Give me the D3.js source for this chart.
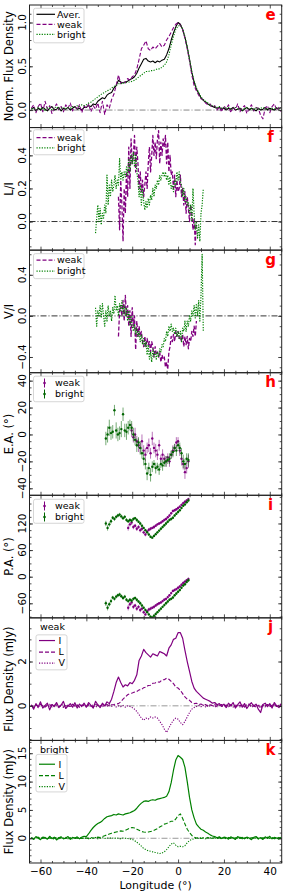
<!DOCTYPE html>
<html>
<head>
<meta charset="utf-8">
<script src="https://cdn.jsdelivr.net/npm/d3@7"></script>
<style>
body { margin: 0; background: #fff; }
text { font-family: "DejaVu Sans", sans-serif; }
</style>
</head>
<body>
<svg id="fig" width="287" height="894"></svg>
<script>
// longitude grid (deg) for the full profiles, 1 deg steps
var lonFull = d3.range(-64, 46, 1);

// panel e: normalised flux density
var normAver = [0.01,0.03,-0.01,0.02,0.00,0.03,0.01,-0.01,0.02,0.04,0.00,0.01,0.03,-0.01,0.02,0.01,0.03,0.00,0.02,0.04,0.01,0.02,0.00,0.03,
  0.03,0.05,0.04,0.07,0.06,0.10,0.12,0.14,0.13,0.17,0.19,
  0.20,0.25,0.28,0.34,0.32,0.31,0.32,0.33,0.35,0.36,
  0.38,0.42,0.48,0.53,0.58,0.59,0.56,0.55,0.56,0.54,
  0.56,0.55,0.57,0.58,0.63,0.70,0.80,0.88,0.95,1.00,
  0.98,0.92,0.83,0.72,0.58,0.43,0.32,0.24,0.19,0.14,
  0.11,0.09,0.07,0.05,0.04,0.03,0.02,0.03,0.01,0.02,
  0.00,0.02,0.01,0.03,0.00,0.01,0.02,-0.01,0.01,0.03,0.00,0.02,0.01,-0.01,0.02,0.00,0.01,0.03,0.00,0.02,0.01,0.00,0.02,0.01,0.03];
var normWeak = [0.02,0.06,-0.03,0.04,0.08,-0.02,0.10,0.01,0.05,-0.04,0.03,0.07,0.00,0.04,-0.02,0.06,0.02,0.08,-0.01,0.04,0.01,0.06,-0.03,0.05,
  0.02,0.07,-0.02,0.05,0.01,0.08,-0.03,0.10,-0.05,0.06,0.02,
  0.12,0.18,0.28,0.40,0.30,0.33,0.31,0.36,0.34,0.38,
  0.40,0.47,0.58,0.70,0.74,0.79,0.70,0.68,0.72,0.70,
  0.73,0.76,0.72,0.74,0.80,0.84,0.89,0.94,0.98,1.00,
  0.97,0.92,0.82,0.70,0.56,0.40,0.28,0.22,0.17,0.13,
  0.12,0.08,0.06,0.07,0.03,0.05,0.00,0.04,-0.02,0.05,
  0.01,0.06,-0.03,0.04,0.00,0.07,-0.02,0.03,0.05,-0.04,0.02,0.06,-0.01,0.03,0.02,-0.06,-0.10,0.02,0.05,-0.03,0.04,0.07,0.00,0.03,-0.02];
var normBright = [0.01,0.02,0.00,0.03,0.01,0.02,-0.01,0.03,0.02,0.00,0.02,0.04,0.01,0.02,0.03,0.01,0.03,0.02,0.04,0.03,0.05,0.04,0.06,0.05,
  0.06,0.08,0.09,0.11,0.13,0.15,0.17,0.19,0.20,0.22,0.23,
  0.25,0.27,0.28,0.30,0.30,0.31,0.31,0.32,0.32,0.33,
  0.34,0.36,0.38,0.40,0.42,0.44,0.44,0.45,0.45,0.46,
  0.47,0.47,0.49,0.51,0.55,0.63,0.74,0.84,0.92,0.96,
  0.97,0.93,0.84,0.72,0.58,0.44,0.33,0.25,0.20,0.15,
  0.12,0.10,0.08,0.06,0.05,0.04,0.03,0.04,0.02,0.03,
  0.02,0.03,0.01,0.02,0.03,0.01,0.02,0.00,0.02,0.03,0.01,0.02,0.00,0.03,0.01,0.02,0.03,0.01,0.02,0.00,0.02,0.01,0.03,0.02,0.01];

// panels f, g: L/I and V/I, 0.5 deg steps
var lonWeakPol = d3.range(-26, 8.25, 0.5);
var lonBrightPol = d3.range(-36, 11.25, 0.5);
var linWeak = [0.15,-0.05,0.25,0.10,-0.12,0.20,0.05,0.30,0.15,0.45,
  0.20,0.50,0.35,0.40,0.52,0.30,0.45,0.35,0.20,0.30,
  0.18,0.25,0.15,0.22,0.30,0.20,0.35,0.45,0.30,0.40,
  0.52,0.40,0.48,0.38,0.50,0.55,0.35,0.48,0.40,0.50,
  0.45,0.52,0.35,0.48,0.30,0.40,0.28,0.30,0.20,0.28,
  0.15,0.25,0.18,0.20,0.28,0.15,0.20,0.10,0.18,0.05,
  0.15,0.08,0.00,0.10,0.05,-0.05,0.02,-0.14,0.00];
var linBright = [-0.07,0.02,0.10,0.00,0.08,-0.02,0.05,0.02,0.10,0.05,
  0.28,0.10,0.22,0.15,0.25,0.18,0.22,0.28,0.20,0.25,
  0.22,0.38,0.25,0.30,0.25,0.30,0.27,0.33,0.28,0.38,
  0.30,0.40,0.35,0.42,0.33,0.40,0.30,0.25,0.15,0.22,
  0.10,0.20,0.12,0.07,0.12,0.08,0.14,0.10,0.16,0.13,
  0.20,0.15,0.22,0.20,0.25,0.22,0.28,0.25,0.28,0.30,
  0.27,0.30,0.25,0.28,0.22,0.27,0.20,0.22,0.18,0.25,
  0.22,0.30,0.25,0.30,0.24,0.22,0.15,0.20,0.12,0.15,
  0.10,0.12,0.05,0.10,0.00,0.20,0.05,-0.05,0.00,-0.10,
  -0.02,-0.12,0.05,0.10,0.20];
var circWeak = [-0.20,0.05,0.10,0.00,0.15,-0.05,0.20,0.00,0.10,-0.10,
  0.05,-0.20,0.08,-0.10,0.00,-0.33,-0.05,-0.20,-0.10,-0.20,
  -0.15,-0.25,-0.30,-0.20,-0.30,-0.22,-0.28,-0.25,-0.35,-0.25,
  -0.30,-0.40,-0.30,-0.38,-0.35,-0.40,-0.35,-0.45,-0.38,-0.42,
  -0.40,-0.50,-0.45,-0.52,-0.35,-0.30,-0.20,-0.25,-0.18,-0.25,
  -0.15,-0.20,-0.15,-0.22,-0.20,-0.25,-0.18,-0.30,-0.20,-0.28,
  -0.20,-0.32,-0.22,-0.25,-0.15,-0.20,-0.10,-0.20,-0.05];
var circBright = [0.08,-0.10,0.05,0.00,0.10,-0.02,0.12,0.00,-0.10,0.05,
  -0.05,0.10,0.00,0.05,-0.05,0.08,0.02,0.20,0.05,0.10,
  0.00,0.12,0.05,0.15,0.02,0.10,0.00,0.08,-0.05,0.05,
  -0.10,0.00,-0.10,-0.15,-0.08,-0.18,-0.12,-0.20,-0.15,-0.25,
  -0.18,-0.28,-0.22,-0.30,-0.25,-0.38,-0.28,-0.42,-0.35,-0.45,
  -0.32,-0.40,-0.35,-0.42,-0.35,-0.40,-0.32,-0.35,-0.28,-0.30,
  -0.22,-0.25,-0.15,-0.20,-0.10,-0.15,-0.08,-0.15,-0.12,-0.18,
  -0.12,-0.20,-0.15,-0.22,-0.15,-0.25,-0.12,-0.15,-0.05,-0.15,
  -0.05,-0.10,0.00,-0.05,0.05,0.00,0.10,-0.02,0.12,0.00,
  0.15,-0.05,0.20,0.60,-0.15];

// panels h, i: E.A. and P.A. (deg), 0.75 deg steps
var lonBrightAng = d3.range(-31.5, 4.6, 0.75);
var lonWeakEA = d3.range(-20.25, 4.6, 0.75);
var lonWeakPA = d3.range(-21.75, 4.6, 0.75);
var eaBright = [-3,0,5,1,2,18,3,0,1,4, 15,3,2,5,7,5,0,-4,-8,-6, -10,-14,-18,-22,-29,-25,-30,-24,-22,-25,
  -24,-26,-22,-23,-21,-20,-19,-18,-15,-13, -10,-12,-8,-10,-14,-20,-22,-18,-19];
var eaErrBright = [5,6,6,5,5,4,6,5,5,6, 5,5,6,5,4,5,5,4,5,4, 5,4,5,4,5,4,5,4,3,4, 3,4,3,4,3,4,3,4,3,4, 3,4,3,4,4,5,4,4,5];
var eaWeak = [3,-2,0,-5,-8,-10,-5,-12,-15,-10, -8,-14,-3,-10,-12,-15,-8,-18,-15,-18,
  -20,-17,-20,-15,-12,-10,-6,-5,-12,-18, -22,-28,-25,-20];
var eaErrWeak = [5,4,5,4,5,4,5,4,5,4, 5,4,5,4,5,4,4,3,4,3, 4,3,4,3,4,3,4,3,4,5, 4,5,4,5];
var paBright = [120,110,118,125,133,130,135,138,140,136, 132,135,128,125,128,126,130,132,128,124,
  120,115,110,105,100,95,90,88,92,96, 100,104,108,112,116,120,124,128,130,133,
  138,142,146,150,155,160,163,168,172];
var paErrBright = [6,6,5,5,4,4,4,4,4,4, 4,4,4,4,4,4,4,3,4,3, 4,3,3,3,3,3,3,3,3,3, 3,3,3,3,3,3,3,3,3,3, 3,3,3,3,3,3,3,3,4];
var paWeak = [110,118,122,112,115,108,112,105,108,100, 95,102,106,108,110,112,115,118,120,122,
  125,128,130,134,138,143,148,150,152,155, 158,162,166,169,172,175];
var paErrWeak = [6,5,5,5,4,5,4,5,4,4, 4,4,4,4,3,4,3,3,3,3, 3,3,3,3,3,3,3,3,3,3, 3,3,3,3,3,3];

// panel j: weak mode (mJy)
var weakI = [0.05,-0.15,0.10,-0.05,0.18,-0.10,0.02,0.12,-0.18,0.06,-0.02,0.15,-0.08,0.04,0.20,-0.12,0.00,0.10,-0.06,0.14,-0.10,0.08,-0.03,0.12,
  -0.05,0.15,0.02,-0.10,0.20,0.05,-0.08,0.12,0.00,0.18,0.10,
  0.30,0.65,1.05,1.30,1.05,0.85,0.95,0.90,1.05,1.00,
  1.15,1.40,2.05,2.25,2.55,2.40,2.30,2.20,2.35,2.30,
  2.25,2.45,2.40,2.35,2.25,2.60,2.75,3.00,3.05,3.30,
  3.30,3.05,2.50,2.00,1.55,1.10,0.80,0.65,0.55,0.45,
  0.35,0.30,0.25,0.20,0.12,0.15,0.05,0.10,-0.02,0.08,
  -0.08,0.12,0.00,0.15,-0.10,0.05,0.18,-0.06,0.10,-0.12,0.04,0.14,-0.02,0.08,-0.15,-0.30,0.06,0.12,-0.04,0.10,-0.10,0.15,0.00,-0.08,0.10];
var weakL = [0.02,-0.08,0.05,-0.03,0.08,0.00,-0.06,0.04,0.07,-0.05,0.02,0.09,-0.04,0.03,-0.07,0.06,0.01,-0.03,0.08,-0.02,0.04,-0.06,0.03,0.05,
  -0.04,0.06,0.00,-0.05,0.07,0.02,-0.03,0.05,0.01,0.06,0.00,
  0.05,0.06,0.08,0.10,0.18,0.30,0.40,0.50,0.55,0.58,
  0.62,0.65,0.72,0.73,0.82,0.84,0.92,0.93,1.02,1.03,
  1.08,1.07,1.17,1.18,1.25,1.20,1.10,1.00,0.85,0.80,
  0.70,0.55,0.40,0.30,0.25,0.15,0.10,0.12,0.05,0.08,
  0.02,0.06,-0.03,0.05,0.00,0.07,-0.04,0.03,0.06,-0.02,
  0.04,-0.05,0.06,0.01,-0.03,0.07,0.00,0.05,-0.06,0.03,0.08,-0.02,0.04,-0.07,0.02,-0.12,0.05,0.00,0.06,-0.04,0.03,0.07,-0.03,0.02,0.05];
var weakV = [0.03,-0.05,0.02,-0.08,0.04,0.00,-0.06,0.05,-0.02,0.06,-0.04,0.01,-0.07,0.03,0.05,-0.03,0.02,-0.05,0.06,-0.01,0.03,-0.06,0.04,0.00,
  -0.05,0.03,-0.02,0.05,-0.06,0.01,0.04,-0.04,0.02,-0.03,0.05,
  -0.02,0.03,-0.05,0.00,-0.04,0.02,-0.06,0.00,-0.03,-0.08,
  -0.15,-0.25,-0.40,-0.55,-0.65,-0.55,-0.60,-0.50,-0.55,-0.50,
  -0.55,-0.70,-0.85,-1.05,-1.20,-1.00,-0.80,-0.65,-0.55,-0.60,
  -0.75,-0.85,-0.70,-0.50,-0.30,-0.15,-0.08,-0.03,0.02,-0.04,
  0.03,-0.05,0.04,-0.02,0.05,-0.06,0.02,0.04,-0.03,0.01,
  0.05,-0.04,0.02,-0.06,0.03,0.00,-0.05,0.04,-0.02,0.06,-0.03,0.01,-0.07,0.03,0.05,-0.04,0.02,-0.05,0.04,0.00,-0.03,0.06,-0.02,0.03,-0.05];

// panel k: bright mode (mJy)
var brightI = [0.15,-0.20,0.30,0.00,-0.25,0.20,0.10,-0.15,0.35,-0.05,0.20,-0.30,0.10,0.25,-0.10,0.05,0.30,-0.20,0.15,0.00,0.25,-0.10,0.20,0.35,
  0.30,0.80,1.40,1.90,2.30,2.60,2.80,3.10,3.50,3.80,3.90,
  4.00,4.20,4.10,4.30,4.20,4.10,4.30,4.40,4.50,4.70,
  4.90,5.30,5.80,6.20,6.50,6.60,6.50,6.70,6.80,6.70,
  6.90,7.00,7.10,7.20,7.40,8.20,9.80,12.00,13.80,14.60,
  14.30,13.90,12.50,10.00,7.20,5.00,3.60,2.50,2.00,1.60,
  1.40,1.10,0.90,0.60,0.40,0.30,0.10,0.25,-0.05,0.20,
  0.10,-0.15,0.25,0.05,-0.20,0.30,0.00,0.15,-0.10,0.20,0.05,-0.25,0.15,0.30,-0.05,0.10,-0.20,0.25,0.00,0.35,-0.10,0.15,0.05,-0.15,0.20];
var brightL = [0.10,-0.15,0.05,0.20,-0.10,0.00,0.15,-0.05,0.10,-0.20,0.05,0.15,-0.10,0.20,0.00,-0.05,0.10,0.05,-0.15,0.10,0.00,0.15,-0.05,0.10,
  0.05,-0.10,0.15,0.00,0.10,0.20,0.15,0.30,0.45,0.60,0.75,
  0.90,1.00,1.10,1.20,1.30,1.25,1.40,1.60,1.80,1.90,
  1.80,1.60,1.40,1.20,1.10,1.05,1.10,1.20,1.30,1.50,
  1.70,2.00,2.20,2.50,2.60,2.80,3.00,3.00,3.40,4.00,
  4.30,3.50,2.50,1.60,1.00,0.50,0.20,0.05,0.10,-0.05,
  0.10,0.00,0.15,-0.10,0.05,0.10,-0.05,0.15,0.00,0.10,
  -0.10,0.15,0.05,-0.05,0.10,0.00,0.20,-0.10,0.05,0.15,-0.05,0.10,0.00,0.15,-0.15,0.05,0.10,-0.05,0.20,0.00,0.10,-0.10,0.05,0.15,0.00];
var brightV = [0.05,-0.10,0.10,0.00,-0.05,0.15,-0.10,0.05,0.00,0.10,-0.15,0.05,0.10,-0.05,0.00,0.15,-0.10,0.05,0.10,-0.05,0.00,0.10,-0.10,0.05,
  0.00,0.10,-0.05,0.05,0.15,-0.10,0.00,0.10,-0.05,0.05,0.00,
  0.10,-0.05,0.05,0.00,-0.10,0.05,0.00,-0.05,-0.10,-0.20,
  -0.40,-0.70,-1.00,-1.40,-1.80,-2.00,-2.20,-2.30,-2.40,-2.50,
  -2.60,-2.70,-2.60,-2.40,-2.00,-1.50,-1.00,-0.80,-1.20,-1.50,
  -1.40,-1.50,-1.30,-0.80,-0.40,-0.20,-0.10,0.05,-0.05,0.10,
  0.00,-0.10,0.05,0.10,-0.05,0.00,0.10,-0.10,0.05,0.00,
  0.10,-0.05,0.00,0.15,-0.10,0.05,0.00,-0.05,0.10,0.00,-0.10,0.05,0.10,-0.05,0.00,0.05,-0.10,0.10,0.00,-0.05,0.05,0.10,-0.05,0.00,0.05];

var xTicks = [-60, -40, -20, 0, 20, 40];

var purple = "#800080", green = "#008000", darkGreen = "#006400";
var dashW = "4,2", dotB = "1.2,1.4";

var svg = d3.select("#fig");
var left = 29.5, right = 281.7, top0 = 5, ph = 122.57;
var x = d3.scaleLinear().domain([-64.8, 45.2]).range([left, right]);

function pairs(lon, vals) {
  return vals.map(function(v, i) { return [lon[i], v]; }).filter(function(d) { return d[0] !== undefined; });
}

function panel(idx, o) {
  var top = top0 + idx * ph, bot = top + ph;
  var y = d3.scaleLinear().domain(o.ydom).range([bot, top]);
  var g = svg.append("g");
  var cid = "clip" + idx;
  svg.append("clipPath").attr("id", cid).append("rect")
    .attr("x", left).attr("y", top).attr("width", right - left).attr("height", ph);
  var plot = g.append("g").attr("clip-path", "url(#" + cid + ")");

  if (o.zero) {
    plot.append("line").attr("x1", left).attr("x2", right)
      .attr("y1", y(0)).attr("y2", y(0))
      .attr("stroke", o.zero).attr("stroke-width", 1).attr("stroke-dasharray", "6,2,1,2");
  }

  // ticks, pointing inward on all four sides
  var minorX = d3.range(-60, 46, 5).filter(function(v) { return xTicks.indexOf(v) < 0; });
  function axis(gen, tr, vals, size, fmt) {
    var a = g.append("g").attr("transform", tr)
      .call(gen.tickValues(vals).tickSize(size).tickSizeOuter(0).tickPadding(5).tickFormat(fmt || ""));
    a.select(".domain").remove();
    a.selectAll("line").attr("stroke", "#222").attr("stroke-width", 0.8);
    return a;
  }
  var fx = (idx === 6) ? d3.format("d") : null;
  var bx = axis(d3.axisBottom(x), "translate(0," + bot + ")", xTicks, -3.5, fx);
  bx.selectAll("text").attr("font-size", 10.5).attr("fill", "#000").attr("font-family", "DejaVu Sans");
  axis(d3.axisBottom(x), "translate(0," + bot + ")", minorX, -2);
  axis(d3.axisTop(x), "translate(0," + top + ")", xTicks, -3.5);
  axis(d3.axisTop(x), "translate(0," + top + ")", minorX, -2);
  axis(d3.axisLeft(y), "translate(" + left + ",0)", o.major, -3.5);
  axis(d3.axisLeft(y), "translate(" + left + ",0)", o.minor, -2);
  axis(d3.axisRight(y), "translate(" + right + ",0)", o.major, -3.5);
  axis(d3.axisRight(y), "translate(" + right + ",0)", o.minor, -2);

  // rotated y tick labels
  g.selectAll(".ylab").data(o.major).enter().append("text")
    .attr("transform", function(v) { return "translate(22," + y(v) + ") rotate(-90)"; })
    .attr("text-anchor", "middle").attr("dy", "0.35em").attr("font-size", 10.5)
    .text(o.fmt);

  g.append("text")
    .attr("transform", "translate(9," + (top + ph / 2) + ") rotate(-90)")
    .attr("text-anchor", "middle").attr("dy", "0.35em").attr("font-size", 11.5)
    .text(o.label);

  g.append("text").attr("x", 270.5).attr("y", top + 14.5)
    .attr("text-anchor", "middle").attr("font-size", 15).attr("font-weight", "bold")
    .attr("fill", "#ff0000").text(o.letter);

  g.append("rect").attr("x", left).attr("y", top).attr("width", right - left).attr("height", ph)
    .attr("fill", "none").attr("stroke", "#222").attr("stroke-width", 1);

  return { plot: plot, y: y, top: top, g: g };
}

function drawLine(p, data, color, dash, w) {
  var line = d3.line().x(function(d) { return x(d[0]); }).y(function(d) { return p.y(d[1]); });
  p.plot.append("path").datum(data).attr("d", line)
    .attr("fill", "none").attr("stroke", color).attr("stroke-width", w || 1)
    .attr("stroke-dasharray", dash || null).attr("stroke-linejoin", "round");
}

function drawErr(p, lon, vals, errs, color, shift) {
  var pts = vals.map(function(v, i) { return { lon: lon[i], v: v + (shift || 0), e: errs[i] }; })
    .filter(function(d) { return d.lon !== undefined; });
  p.plot.selectAll(null).data(pts).enter().append("line")
    .attr("x1", function(d) { return x(d.lon); }).attr("x2", function(d) { return x(d.lon); })
    .attr("y1", function(d) { return p.y(d.v - d.e); }).attr("y2", function(d) { return p.y(d.v + d.e); })
    .attr("stroke", color).attr("stroke-opacity", 0.55).attr("stroke-width", 1);
  p.plot.selectAll(null).data(pts).enter().append("circle")
    .attr("cx", function(d) { return x(d.lon); }).attr("cy", function(d) { return p.y(d.v); })
    .attr("r", 1.2).attr("fill", color);
}

function legend(p, box, rows) {
  var lg = p.g.append("g");
  lg.append("rect").attr("x", box[0]).attr("y", p.top + box[1]).attr("width", box[2]).attr("height", box[3])
    .attr("rx", 2).attr("fill", "#fff").attr("fill-opacity", 0.85).attr("stroke", "#ccc").attr("stroke-width", 0.8);
  rows.forEach(function(r) {
    var yy = p.top + r.y;
    if (r.marker) {
      lg.append("line").attr("x1", r.x1 + 8).attr("x2", r.x1 + 8).attr("y1", yy - 4.5).attr("y2", yy + 4.5)
        .attr("stroke", r.color).attr("stroke-width", 1);
      lg.append("circle").attr("cx", r.x1 + 8).attr("cy", yy).attr("r", 1.3).attr("fill", r.color);
    } else {
      lg.append("line").attr("x1", r.x1).attr("x2", r.x2).attr("y1", yy).attr("y2", yy)
        .attr("stroke", r.color).attr("stroke-width", r.w || 1.2).attr("stroke-dasharray", r.dash || null);
    }
    lg.append("text").attr("x", r.tx).attr("y", yy).attr("dy", "0.35em").attr("font-size", r.fs || 9.5)
      .text(r.text);
  });
}

var f1 = d3.format(".1f");

// e
var pe = panel(0, { ydom: [-0.2, 1.2], major: [0, 0.5, 1.0], minor: d3.range(-0.1, 1.15, 0.1), label: "Norm. Flux Density", letter: "e", zero: "#888", fmt: f1 });
drawLine(pe, pairs(lonFull, normAver), "#000", null, 1.1);
drawLine(pe, pairs(lonFull, normWeak), purple, dashW, 1.1);
drawLine(pe, pairs(lonFull, normBright), green, dotB, 1.1);
legend(pe, [33.5, 3.3, 50.5, 34.5], [
  { y: 9.3, x1: 36.5, x2: 55, tx: 57, text: "Aver.", color: "#000" },
  { y: 19.3, x1: 36.5, x2: 55, tx: 57, text: "weak", color: purple, dash: dashW },
  { y: 29.3, x1: 36.5, x2: 55, tx: 57, text: "bright", color: green, dash: dotB }]);

// f
var pf = panel(1, { ydom: [-0.173, 0.568], major: [0, 0.2, 0.4], minor: d3.range(-0.15, 0.56, 0.05), label: "L/I", letter: "f", zero: "#333", fmt: f1 });
drawLine(pf, pairs(lonWeakPol, linWeak), purple, dashW, 1.3);
drawLine(pf, pairs(lonBrightPol, linBright), green, dotB, 1.2);
legend(pf, [33.5, 2.2, 50.5, 25], [
  { y: 10, x1: 36.5, x2: 55, tx: 57, text: "weak", color: purple, dash: dashW },
  { y: 20.4, x1: 36.5, x2: 55, tx: 57, text: "bright", color: green, dash: dotB }]);

// g
var pg = panel(2, { ydom: [-0.553, 0.64], major: [-0.4, 0, 0.4], minor: d3.range(-0.5, 0.61, 0.1), label: "V/I", letter: "g", zero: "#333", fmt: f1 });
drawLine(pg, pairs(lonWeakPol, circWeak), purple, dashW, 1.3);
drawLine(pg, pairs(lonBrightPol, circBright), green, dotB, 1.2);
legend(pg, [33.5, 3.5, 50.5, 25], [
  { y: 10, x1: 36.5, x2: 55, tx: 57, text: "weak", color: purple, dash: dashW },
  { y: 21, x1: 36.5, x2: 55, tx: 57, text: "bright", color: green, dash: dotB }]);

// h
var fd = d3.format("d");
var ph_ = panel(3, { ydom: [-45.2, 45.9], major: [-40, -20, 0, 20, 40], minor: d3.range(-45, 46, 5), label: "E.A. (\u00b0)", letter: "h", zero: null, fmt: fd });
drawErr(ph_, lonWeakEA, eaWeak, eaErrWeak, purple);
drawErr(ph_, lonBrightAng, eaBright, eaErrBright, darkGreen);
legend(ph_, [33.5, 3.5, 50.5, 25.5], [
  { y: 10.3, x1: 36.5, tx: 55, text: "weak", color: purple, marker: true },
  { y: 21.3, x1: 36.5, tx: 55, text: "bright", color: darkGreen, marker: true }]);

// i
var pi = panel(4, { ydom: [-92.8, 183.6], major: [-60, 0, 60, 120], minor: d3.range(-90, 181, 15), label: "P.A. (\u00b0)", letter: "i", zero: null, fmt: fd });
drawErr(pi, lonWeakPA, paWeak, paErrWeak, purple);
drawErr(pi, lonBrightAng, paBright, paErrBright, darkGreen);
drawErr(pi, lonWeakPA, paWeak, paErrWeak, purple, -180);
drawErr(pi, lonBrightAng, paBright, paErrBright, darkGreen, -180);
legend(pi, [33.5, 4, 50.5, 24], [
  { y: 10.7, x1: 36.5, tx: 55, text: "weak", color: purple, marker: true },
  { y: 21.7, x1: 36.5, tx: 55, text: "bright", color: darkGreen, marker: true }]);

// j
var pj = panel(5, { ydom: [-1.56, 3.97], major: [0, 2], minor: d3.range(-1.5, 3.9, 0.5), label: "Flux Density (mJy)", letter: "j", zero: "#999", fmt: fd });
drawLine(pj, pairs(lonFull, weakI), purple, null, 1.2);
drawLine(pj, pairs(lonFull, weakL), purple, dashW, 1.1);
drawLine(pj, pairs(lonFull, weakV), purple, dotB, 1.1);
pj.g.append("text").attr("x", 40).attr("y", pj.top + 9).attr("dy", "0.35em").attr("font-size", 9.5).text("weak");
legend(pj, [36, 17, 31, 35], [
  { y: 22.7, x1: 39, x2: 55, tx: 58.5, text: "I", color: purple },
  { y: 34.3, x1: 39, x2: 55, tx: 58.5, text: "L", color: purple, dash: dashW },
  { y: 45.3, x1: 39, x2: 55, tx: 58.5, text: "V", color: purple, dash: dotB }]);

// k
var pk = panel(6, { ydom: [-4.36, 17.26], major: [0, 5, 10, 15], minor: d3.range(-4, 17.1, 1), label: "Flux Density (mJy)", letter: "k", zero: "#999", fmt: fd });
drawLine(pk, pairs(lonFull, brightI), green, null, 1.2);
drawLine(pk, pairs(lonFull, brightL), green, dashW, 1.1);
drawLine(pk, pairs(lonFull, brightV), green, dotB, 1.1);
pk.g.append("text").attr("x", 40).attr("y", pk.top + 9).attr("dy", "0.35em").attr("font-size", 9.5).text("bright");
legend(pk, [36, 14, 31, 37.5], [
  { y: 23.8, x1: 39, x2: 55, tx: 58.5, text: "I", color: green },
  { y: 35.2, x1: 39, x2: 55, tx: 58.5, text: "L", color: green, dash: dashW },
  { y: 46.2, x1: 39, x2: 55, tx: 58.5, text: "V", color: green, dash: dotB }]);

svg.append("text").attr("x", (left + right) / 2).attr("y", 888.5).attr("text-anchor", "middle")
  .attr("font-size", 11).text("Longitude (\u00b0)");
</script>
</body>
</html>
